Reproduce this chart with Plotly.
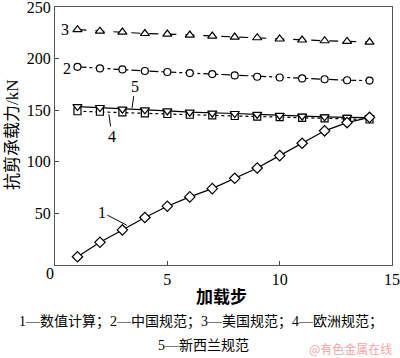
import plotly.graph_objects as go

steps = list(range(1, 15))
numerical = [8, 22, 34, 46, 57, 66, 74, 84, 94, 106, 118, 130, 138, 143]
china = [192, 190.5, 189.5, 188, 187, 186, 185, 183.7, 182.4, 181.7, 180.8, 180, 179, 178.7]
usa = [228, 226.6, 225.7, 224.3, 223.8, 222.8, 221.8, 220.9, 220.2, 219, 218, 217.3, 216.6, 216]
europe = [149, 148.5, 147.8, 147, 146.3, 145.6, 145, 144.4, 143.8, 143.2, 142.6, 142, 141.5, 141]
newzealand = [153.5, 152.6, 151, 150.3, 149.3, 148.1, 147.1, 146.8, 145.9, 144.9, 144.2, 143.6, 143, 142.8]

x_ticks = [0, 5, 10, 15]
y_ticks = [50, 100, 150, 200, 250]

SERIF = "Liberation Serif, Noto Sans CJK SC, serif"

TOP = 7
BOTTOM = 265
PH = BOTTOM - TOP

fig = go.Figure()

def add(y, dash, symbol, size=7):
    fig.add_trace(go.Scatter(
        x=steps, y=y, mode="lines+markers",
        line=dict(color="black", width=1.2, dash=dash),
        marker=dict(symbol=symbol, size=size, color="white",
                    line=dict(color="black", width=1.2)),
        showlegend=False, cliponaxis=False))

add(usa, "dash", "triangle-up", 8)
add(china, "dashdot", "circle", 7)
add(europe, "dot", "square", 7)
add(newzealand, "solid", "triangle-down", 8)
add(numerical, "solid", "diamond", 8)

ann = []
# curve labels
ann.append(dict(x=0.45, y=228, text="3", showarrow=False, font=dict(size=16)))
ann.append(dict(x=0.53, y=190, text="2", showarrow=False, font=dict(size=16)))
ann.append(dict(x=3.43, y=152, text="5", showarrow=True, arrowhead=0, arrowwidth=1,
                arrowcolor="black", ax=3, ay=-22, font=dict(size=16)))
ann.append(dict(x=2.4, y=146, text="4", showarrow=True, arrowhead=0, arrowwidth=1,
                arrowcolor="black", ax=3, ay=22, font=dict(size=16)))
ann.append(dict(x=3.2, y=38.5, text="1", showarrow=True, arrowhead=0, arrowwidth=1,
                arrowcolor="black", ax=-25, ay=-13, font=dict(size=16)))

def py(p):
    return (BOTTOM - p) / PH

def px(p):
    return (p - 55) / 337.0

def paper_text(x, y, text, size, **kw):
    d = dict(xref="paper", yref="paper", x=px(x), y=py(y), text=text,
             showarrow=False, xanchor="center", yanchor="middle",
             font=dict(size=size))
    d.update(kw)
    if "font" in kw:
        d["font"] = dict(size=size, **kw["font"])
    return d

ann.append(paper_text(50, 273, "0", 16))
ann.append(paper_text(221, 297, "<b>加载步</b>", 17))
ann.append(paper_text(12, 135, "抗剪承载力/kN", 17, textangle=-90))
ann.append(paper_text(201, 321, "1—数值计算；2—中国规范；3—美国规范；4—欧洲规范；", 14))
ann.append(paper_text(203, 345, "5—新西兰规范", 14))
ann.append(paper_text(350, 348, "@有色金属在线", 12,
                      font=dict(color="#f2a6a6", family="Noto Sans CJK SC")))

fig.update_layout(
    width=400, height=358,
    margin=dict(l=55, r=8, t=TOP, b=358 - BOTTOM, autoexpand=False),
    plot_bgcolor="white", paper_bgcolor="white",
    font=dict(family=SERIF, color="black", size=16),
    annotations=ann,
    xaxis=dict(range=[0, 15], tickvals=x_ticks, ticktext=["", "5", "10", "15"],
               ticks="inside", ticklen=4, tickcolor="#444", automargin=False,
               ticklabeloverflow="allow",
               showline=True, linecolor="#555", linewidth=1.3, mirror=True,
               showgrid=False, zeroline=False, tickfont=dict(size=16)),
    yaxis=dict(range=[0, 250], tickvals=y_ticks, automargin=False,
               ticklabeloverflow="allow",
               ticks="inside", ticklen=4, tickcolor="#444",
               showline=True, linecolor="#555", linewidth=1.3, mirror=True,
               showgrid=False, zeroline=False, tickfont=dict(size=16)),
)

fig.write_html("out.html", config={"displayModeBar": False},
               post_script="document.body.style.margin='0';document.body.style.overflow='hidden';")
